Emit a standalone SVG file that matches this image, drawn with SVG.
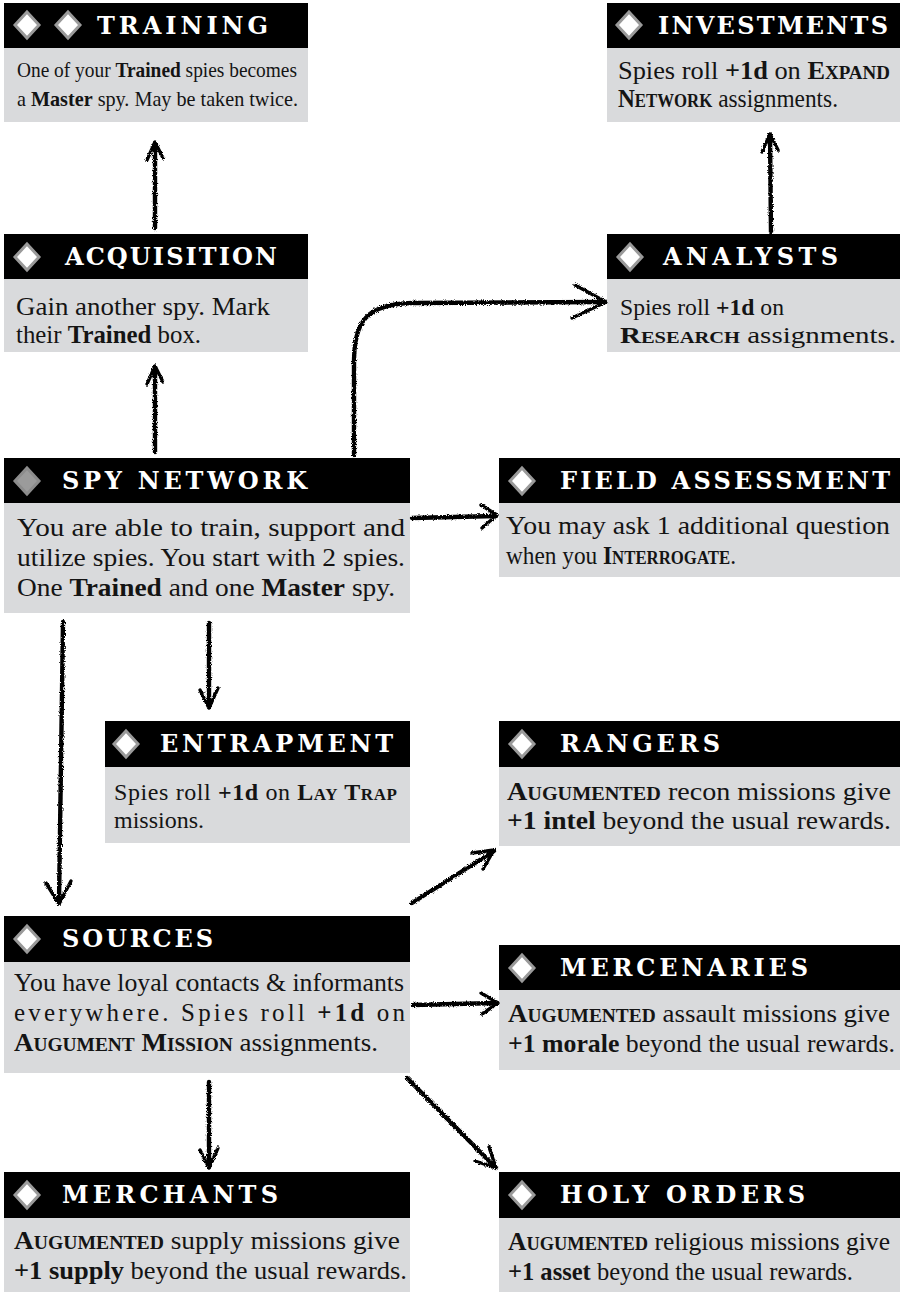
<svg xmlns="http://www.w3.org/2000/svg" width="903" height="1295" viewBox="0 0 903 1295">
<style>
.hd{fill:#000}
.bd{fill:#d9dadc}
.dm{fill:#fff;stroke:#9a9a9a;stroke-width:3}
.dmr{fill:#9b9b9b;stroke:#8c8c8c;stroke-width:3}
.ht{font-family:"DejaVu Serif","Liberation Serif",serif;font-weight:bold;font-size:24px;fill:#fff}
.t{font-family:"Liberation Serif","Times New Roman",serif;fill:#141414}
.b{font-weight:bold}
.sc{font-weight:bold;font-variant:small-caps}
.ar{fill:none;stroke:#000;stroke-width:4.4;stroke-linecap:round;stroke-linejoin:round}
.ah{fill:none;stroke:#000;stroke-width:3.4;stroke-linecap:round;stroke-linejoin:round}
</style>
<defs>
<filter id="rough" filterUnits="userSpaceOnUse" x="0" y="0" width="903" height="1295">
<feTurbulence type="fractalNoise" baseFrequency="0.9" numOctaves="2" seed="4"/>
<feDisplacementMap in="SourceGraphic" scale="3.5" xChannelSelector="R" yChannelSelector="G"/>
</filter>
</defs>
<rect width="903" height="1295" fill="#fff"/>

<g id="training">
<rect class="hd" x="4" y="3" width="304" height="45"/>
<rect class="bd" x="4" y="48" width="304" height="74"/>
<polygon class="dm" points="27,12 39,25 27,38 15,25"/>
<polygon class="dm" points="68,12 80,25 68,38 56,25"/>
<text class="ht" x="97" y="34" textLength="171" lengthAdjust="spacing">TRAINING</text>
<text class="t" font-size="21" x="17" y="77" textLength="280" lengthAdjust="spacingAndGlyphs">One of your <tspan class="b">Trained</tspan> spies becomes</text>
<text class="t" font-size="21" x="17" y="106" textLength="281" lengthAdjust="spacingAndGlyphs">a <tspan class="b">Master</tspan> spy. May be taken twice.</text>
</g>

<g id="investments">
<rect class="hd" x="607" y="3" width="293" height="45"/>
<rect class="bd" x="607" y="48" width="293" height="74"/>
<polygon class="dm" points="629,12 641,25 629,38 617,25"/>
<text class="ht" x="658" y="34" textLength="230" lengthAdjust="spacing">INVESTMENTS</text>
<text class="t" font-size="25" x="618" y="79" textLength="272" lengthAdjust="spacingAndGlyphs">Spies roll <tspan class="b">+1d</tspan> on <tspan class="sc">Expand</tspan></text>
<text class="t" font-size="25" x="618" y="107" textLength="220" lengthAdjust="spacingAndGlyphs"><tspan class="sc">Network</tspan> assignments.</text>
</g>

<g id="acquisition">
<rect class="hd" x="4" y="234" width="304" height="45"/>
<rect class="bd" x="4" y="279" width="304" height="73"/>
<polygon class="dm" points="27,244 39,257 27,270 15,257"/>
<text class="ht" x="65" y="265" textLength="212" lengthAdjust="spacing">ACQUISITION</text>
<text class="t" font-size="25" x="16" y="315" textLength="254" lengthAdjust="spacingAndGlyphs">Gain another spy. Mark</text>
<text class="t" font-size="25" x="16" y="343" textLength="185" lengthAdjust="spacingAndGlyphs">their <tspan class="b">Trained</tspan> box.</text>
</g>

<g id="analysts">
<rect class="hd" x="607" y="234" width="293" height="45"/>
<rect class="bd" x="607" y="279" width="293" height="73"/>
<polygon class="dm" points="630,244 642,257 630,270 618,257"/>
<text class="ht" x="663" y="265" textLength="175" lengthAdjust="spacing">ANALYSTS</text>
<text class="t" font-size="24" x="620" y="315" textLength="164" lengthAdjust="spacingAndGlyphs">Spies roll <tspan class="b">+1d</tspan> on</text>
<text class="t" font-size="24" x="620" y="343" textLength="276" lengthAdjust="spacingAndGlyphs"><tspan class="sc">Research</tspan> assignments.</text>
</g>

<g id="spy-network">
<rect class="hd" x="4" y="458" width="406" height="45"/>
<rect class="bd" x="4" y="503" width="406" height="110"/>
<polygon class="dmr" points="27,468 39,481 27,494 15,481"/>
<text class="ht" x="62" y="489" textLength="245" lengthAdjust="spacing">SPY NETWORK</text>
<text class="t" font-size="26" x="17" y="536" textLength="388" lengthAdjust="spacingAndGlyphs">You are able to train, support and</text>
<text class="t" font-size="26" x="17" y="566" textLength="388" lengthAdjust="spacingAndGlyphs">utilize spies. You start with 2 spies.</text>
<text class="t" font-size="26" x="17" y="596" textLength="378" lengthAdjust="spacingAndGlyphs">One <tspan class="b">Trained</tspan> and one <tspan class="b">Master</tspan> spy.</text>
</g>

<g id="field-assessment">
<rect class="hd" x="499" y="458" width="401" height="45"/>
<rect class="bd" x="499" y="503" width="401" height="74"/>
<polygon class="dm" points="522,468 534,481 522,494 510,481"/>
<text class="ht" x="560" y="489" textLength="330" lengthAdjust="spacing">FIELD ASSESSMENT</text>
<text class="t" font-size="25" x="506" y="534" textLength="384" lengthAdjust="spacingAndGlyphs">You may ask 1 additional question</text>
<text class="t" font-size="25" x="506" y="564" textLength="230" lengthAdjust="spacingAndGlyphs">when you <tspan class="sc">Interrogate</tspan>.</text>
</g>

<g id="entrapment">
<rect class="hd" x="105" y="721" width="305" height="46"/>
<rect class="bd" x="105" y="767" width="305" height="76"/>
<polygon class="dm" points="126,731 138,744 126,757 114,744"/>
<text class="ht" x="160" y="752" textLength="233" lengthAdjust="spacing">ENTRAPMENT</text>
<text class="t" font-size="24" x="114" y="800" textLength="283" lengthAdjust="spacing">Spies roll <tspan class="b">+1d</tspan> on <tspan class="sc">Lay Trap</tspan></text>
<text class="t" font-size="24" x="114" y="828">missions.</text>
</g>

<g id="rangers">
<rect class="hd" x="499" y="721" width="401" height="46"/>
<rect class="bd" x="499" y="767" width="401" height="79"/>
<polygon class="dm" points="522,731 534,744 522,757 510,744"/>
<text class="ht" x="560" y="752" textLength="160" lengthAdjust="spacing">RANGERS</text>
<text class="t" font-size="25" x="507" y="800" textLength="384" lengthAdjust="spacingAndGlyphs"><tspan class="sc">Augumented</tspan> recon missions give</text>
<text class="t" font-size="25" x="507" y="829" textLength="384" lengthAdjust="spacingAndGlyphs"><tspan class="b">+1 intel</tspan> beyond the usual rewards.</text>
</g>

<g id="sources">
<rect class="hd" x="4" y="916" width="406" height="46"/>
<rect class="bd" x="4" y="962" width="406" height="111"/>
<polygon class="dm" points="27,926 39,939 27,952 15,939"/>
<text class="ht" x="62" y="947" textLength="151" lengthAdjust="spacing">SOURCES</text>
<text class="t" font-size="25" x="14" y="991" textLength="390" lengthAdjust="spacingAndGlyphs">You have loyal contacts &amp; informants</text>
<text class="t" font-size="25" x="14" y="1021" textLength="391" lengthAdjust="spacing">everywhere. Spies roll <tspan class="b">+1d</tspan> on</text>
<text class="t" font-size="25" x="14" y="1051" textLength="364" lengthAdjust="spacingAndGlyphs"><tspan class="sc">Augument Mission</tspan> assignments.</text>
</g>

<g id="mercenaries">
<rect class="hd" x="499" y="945" width="401" height="45"/>
<rect class="bd" x="499" y="990" width="401" height="80"/>
<polygon class="dm" points="522,955 534,968 522,981 510,968"/>
<text class="ht" x="560" y="976" textLength="248" lengthAdjust="spacing">MERCENARIES</text>
<text class="t" font-size="25" x="508" y="1022" textLength="382" lengthAdjust="spacingAndGlyphs"><tspan class="sc">Augumented</tspan> assault missions give</text>
<text class="t" font-size="25" x="508" y="1052" textLength="387" lengthAdjust="spacingAndGlyphs"><tspan class="b">+1 morale</tspan> beyond the usual rewards.</text>
</g>

<g id="merchants">
<rect class="hd" x="4" y="1172" width="406" height="46"/>
<rect class="bd" x="4" y="1218" width="406" height="74"/>
<polygon class="dm" points="27,1182 39,1195 27,1208 15,1195"/>
<text class="ht" x="62" y="1203" textLength="216" lengthAdjust="spacing">MERCHANTS</text>
<text class="t" font-size="25" x="14" y="1249" textLength="386" lengthAdjust="spacingAndGlyphs"><tspan class="sc">Augumented</tspan> supply missions give</text>
<text class="t" font-size="25" x="14" y="1279" textLength="393" lengthAdjust="spacingAndGlyphs"><tspan class="b">+1 supply</tspan> beyond the usual rewards.</text>
</g>

<g id="holy-orders">
<rect class="hd" x="499" y="1172" width="401" height="46"/>
<rect class="bd" x="499" y="1218" width="401" height="74"/>
<polygon class="dm" points="522,1182 534,1195 522,1208 510,1195"/>
<text class="ht" x="560" y="1203" textLength="245" lengthAdjust="spacing">HOLY ORDERS</text>
<text class="t" font-size="25" x="508" y="1250" textLength="382" lengthAdjust="spacingAndGlyphs"><tspan class="sc">Augumented</tspan> religious missions give</text>
<text class="t" font-size="25" x="508" y="1280" textLength="345" lengthAdjust="spacingAndGlyphs"><tspan class="b">+1 asset</tspan> beyond the usual rewards.</text>
</g>

<g id="connectors" filter="url(#rough)">
<path class="ar" d="M155 228 L155 143"/>
<path class="ah" d="M147 160 L155 142 L163 158"/>
<path class="ar" d="M155 452 L155 367"/>
<path class="ah" d="M147 384 L155 366 L163 382"/>
<path class="ar" d="M771 232 L770 135"/>
<path class="ah" d="M762 152 L770 134 L778 150"/>
<path class="ar" d="M354 455 L354 362 C354 322 366 304 412 303 L605 302"/>
<path class="ah" d="M575 285 L606 302 L572 318"/>
<path class="ar" d="M412 518 L496 516"/>
<path class="ah" d="M481 505 L497 515 L482 528"/>
<path class="ar" d="M209 623 L209 707"/>
<path class="ah" d="M200 690 L209 708 L218 688"/>
<path class="ar" d="M63 622 L59 903"/>
<path class="ah" d="M46 883 L59 904 L71 881"/>
<path class="ar" d="M412 903 L494 851"/>
<path class="ah" d="M472 853 L494 850 L483 869"/>
<path class="ar" d="M413 1005 L497 1003"/>
<path class="ah" d="M481 993 L498 1003 L482 1014"/>
<path class="ar" d="M407 1078 L496 1168"/>
<path class="ah" d="M489 1147 L496 1168 L475 1161"/>
<path class="ar" d="M209 1082 L209 1167"/>
<path class="ah" d="M200 1150 L209 1168 L218 1148"/>
</g>
</svg>
